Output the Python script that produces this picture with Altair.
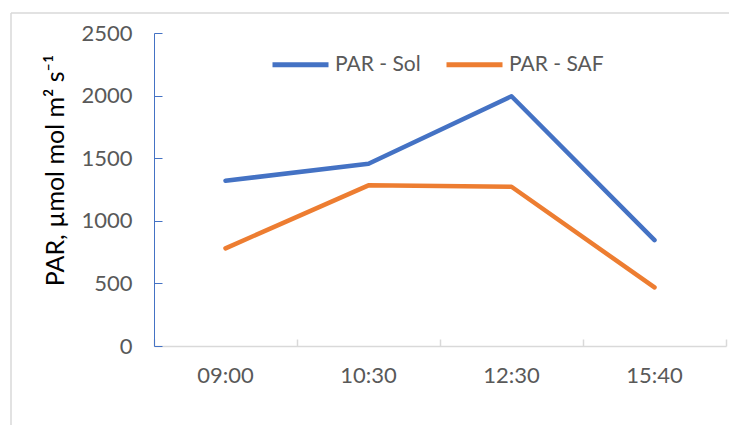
import altair as alt
import pandas as pd

times = ["09:00", "10:30", "12:30", "15:40"]
sol = [1320, 1455, 1995, 845]
saf = [780, 1283, 1272, 468]
series_names = ["PAR - Sol", "PAR - SAF"]
colors = ["#4472C4", "#ED7D31"]
y_ticks = [0, 500, 1000, 1500, 2000, 2500]

rows = []
for name, vals in zip(series_names, [sol, saf]):
    for t, v in zip(times, vals):
        rows.append({"time": t, "series": name, "value": v})
df = pd.DataFrame(rows)

FONT = "Lato"
LABEL_COLOR = "#595959"
FRAME = "#D9D9D9"

xscale = alt.Scale(type="band", domain=times, paddingInner=0, paddingOuter=0)
yscale = alt.Scale(domain=[0, 2500], nice=False)

main = alt.Chart(df).mark_line(strokeWidth=4.5, strokeCap="round", strokeJoin="round").encode(
    x=alt.X("time:N", scale=xscale, bandPosition=0.5, sort=times,
            axis=alt.Axis(orient="bottom", title=None, ticks=False, domainColor="#D9D9D9",
                          domainWidth=1.5, labelFont=FONT, labelFontSize=22,
                          labelColor=LABEL_COLOR, labelPadding=19, labelAngle=0)),
    y=alt.Y("value:Q", scale=yscale,
            axis=alt.Axis(orient="left", values=y_ticks, format="d", ticks=False, grid=False,
                          domainColor="#4472C4", domainWidth=1, labelFont=FONT,
                          labelFontSize=22, labelColor=LABEL_COLOR, labelPadding=22,
                          title="PAR, µmol mol m² s⁻¹", titleFont=FONT, titleFontSize=25,
                          titleFontWeight="normal", titleColor="black", titleAngle=-90,
                          titleX=-91, titleY=137, titleAlign="center",
                          titleBaseline="alphabetic")),
    color=alt.Color("series:N", scale=alt.Scale(domain=series_names, range=colors),
                    sort=series_names,
                    legend=alt.Legend(title=None, orient="none", direction="horizontal",
                                      legendX=116, legendY=1, symbolType="stroke",
                                      symbolSize=3136, symbolStrokeWidth=5,
                                      labelFont=FONT, labelFontSize=21,
                                      labelColor=LABEL_COLOR, labelOffset=4,
                                      columnPadding=15, labelLimit=300)),
)

ticks = alt.Chart(df).mark_line(opacity=0).encode(
    x=alt.X("time:N", scale=xscale, bandPosition=0.5, sort=times,
            axis=alt.Axis(orient="bottom", title=None, labels=False, domain=False,
                          ticks=True, tickSize=7, tickColor="#D9D9D9", tickWidth=1.5,
                          tickBand="extent", offset=-7)),
    y=alt.Y("value:Q", scale=yscale,
            axis=alt.Axis(orient="left", values=y_ticks, labels=False, domain=False,
                          grid=False, ticks=True, tickSize=8, tickColor="#4472C4",
                          tickWidth=1, offset=-8, title=None)),
    detail="series:N",
)

frame_data = alt.Data(values=[{}])
frame_top = alt.Chart(frame_data).mark_rule(color=FRAME, strokeWidth=1.5).encode(
    x=alt.value(-143), x2=alt.value(700), y=alt.value(-20))
frame_left = alt.Chart(frame_data).mark_rule(color=FRAME, strokeWidth=1.5).encode(
    x=alt.value(-143), y=alt.value(-20), y2=alt.value(420))

chart = alt.layer(main, ticks, frame_top, frame_left).resolve_axis(
    x="independent", y="independent").properties(
    width=572,
    height=313,
    padding={"left": 146, "top": 25, "right": 3, "bottom": 79},
    autosize=alt.AutoSizeParams(type="none"),
).configure_view(stroke=None)

chart.save("out.html", embed_options={"renderer": "svg", "actions": False})
